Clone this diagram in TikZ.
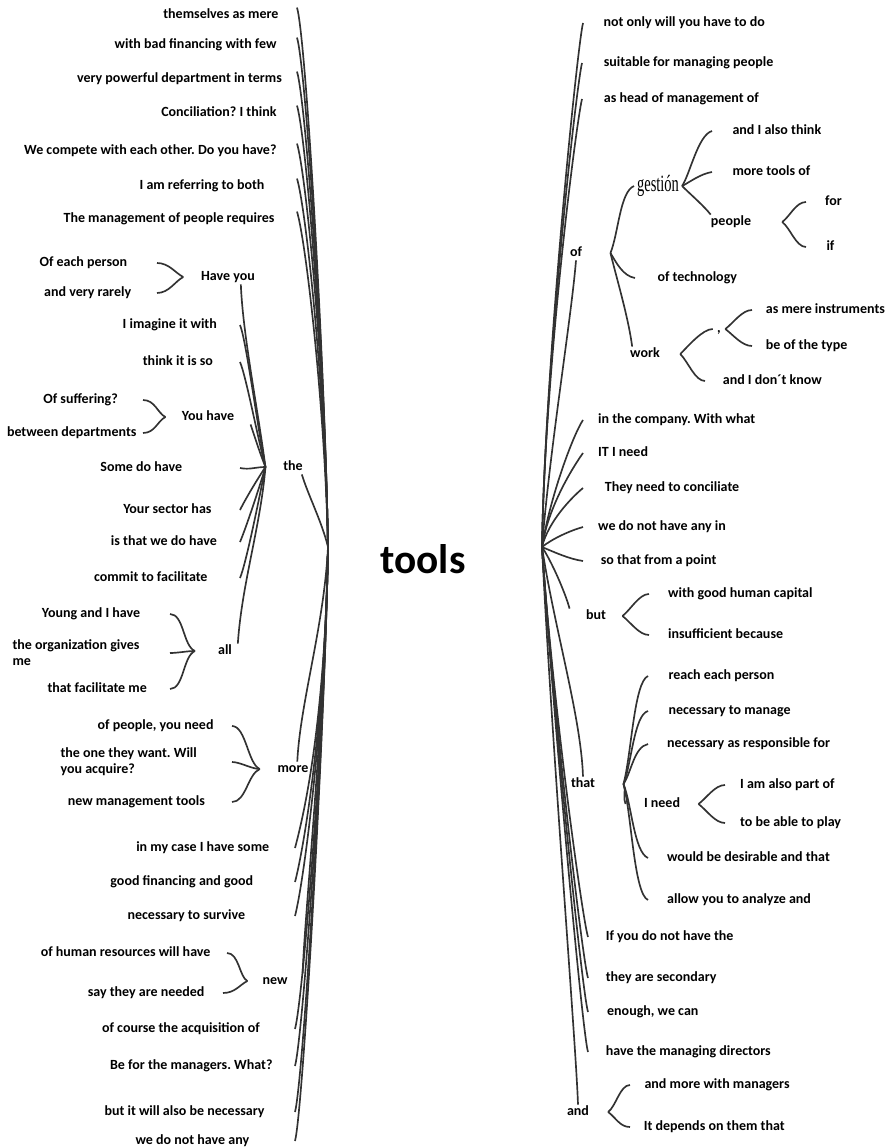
\documentclass[tikz,border=0pt]{standalone}
\usepackage{fontspec}
\setmainfont{Carlito}
\newfontfamily\gestfont[FakeStretch=0.62]{Liberation Serif}
\frenchspacing
\tikzset{every picture/.style={line width=0.75pt}}
\tikzset{
  word/.style={font=\bfseries\fontsize{10.5}{12}\selectfont, text height=1.5ex, text depth=.25ex, inner ysep=1pt},
  lword/.style={word, anchor=east},
  rword/.style={word, anchor=west},
  twoline/.style={font=\bfseries\fontsize{10.5}{12}\selectfont, align=left, inner ysep=1pt, anchor=east},
  wire/.style={color={rgb, 255:red, 50; green, 50; blue, 50}, line width=1.25pt},
}
\begin{document}
\begin{tikzpicture}[x=0.75pt,y=0.75pt,yscale=-1,xscale=1]
\useasboundingbox (0,0) rectangle (886,1148);

% Root
\node (tools) at (423,559) [font=\bfseries\fontsize{31}{36}\selectfont] {tools};
\coordinate (toolsL) at (328,547);
\coordinate (toolsR) at (542,547);

% Text Node: left, upper
\node (lt1) at (297,15) [lword, inner xsep=13.5pt] {themselves as mere};
\node (lt2) at (297,45) [lword, inner xsep=15pt] {with bad financing with few};
\node (lt3) at (297,79) [lword, inner xsep=11pt] {very powerful department in terms};
\node (lt4) at (297,113) [lword, inner xsep=15pt] {Conciliation? I think};
\node (lt5) at (297,151) [lword, inner xsep=15pt] {We compete with each other. Do you have?};
\node (lt6) at (297,186) [lword, inner xsep=24pt] {I am referring to both};
\node (lt7) at (297,219) [lword, inner xsep=16.5pt] {The management of people requires};

% Text Node: Have you
\node (hv) at (228,277) [word, inner xsep=13pt] {Have you};
\node (hv1) at (157,263) [lword, inner xsep=22pt] {Of each person};
\node (hv2) at (157,293) [lword, inner xsep=19pt] {and very rarely};

% Text Node: the
\node (the) at (293,467) [word, inner xsep=13pt] {the};
\node (th1) at (240,325) [lword, inner xsep=17pt] {I imagine it with};
\node (th2) at (240,362) [lword, inner xsep=20pt] {think it is so};
\node (yh) at (208,417) [word, inner xsep=12pt] {You have};
\node (yh1) at (143,400) [lword, inner xsep=18.5pt] {Of suffering?};
\node (yh2) at (143,433) [lword, inner xsep=4.5pt] {between departments};
\node (th3) at (240,468) [lword, inner xsep=43pt] {Some do have};
\node (th4) at (240,510) [lword, inner xsep=21pt] {Your sector has};
\node (th5) at (240,542) [lword, inner xsep=17pt] {is that we do have};
\node (th6) at (240,578) [lword, inner xsep=24pt] {commit to facilitate};

% Text Node: all
\node (al) at (225,651) [word, inner xsep=17pt] {all};
\node (al1) at (170,614) [lword, inner xsep=22pt] {Young and I have};
\node (al2) at (170,653) [twoline, inner xsep=22.5pt] {the organization gives\\me};
\node (al3) at (170,689) [lword, inner xsep=17pt] {that facilitate me};

% Text Node: more
\node (mo) at (293,769) [word, inner xsep=13pt] {more};
\node (mo1) at (232,726) [lword, inner xsep=13.5pt] {of people, you need};
\node (mo2) at (232,762) [twoline, inner xsep=26pt] {the one they want. Will\\you acquire?};
\node (mo3) at (232,802) [lword, inner xsep=20pt] {new management tools};

% Text Node: left, lower
\node (lb1) at (295,848) [lword, inner xsep=19pt] {in my case I have some};
\node (lb2) at (295,882) [lword, inner xsep=31pt] {good financing and good};
\node (lb3) at (295,916) [lword, inner xsep=37pt] {necessary to survive};
\node (nw) at (275,981) [word, inner xsep=11pt] {new};
\node (nw1) at (227,953) [lword, inner xsep=12pt] {of human resources will have};
\node (nw2) at (223,993) [lword, inner xsep=13.5pt] {say they are needed};
\node (lb4) at (295,1029) [lword, inner xsep=26pt] {of course the acquisition of};
\node (lb5) at (295,1066) [lword, inner xsep=16.5pt] {Be for the managers. What?};
\node (lb6) at (295,1112) [lword, inner xsep=22.5pt] {but it will also be necessary};
\node (lb7) at (295,1141) [lword, inner xsep=34pt] {we do not have any};

% Text Node: right, upper
\node (ru1) at (583,23) [rword, inner xsep=15pt] {not only will you have to do};
\node (ru2) at (582,63) [rword, inner xsep=16pt] {suitable for managing people};
\node (ru3) at (582,99) [rword, inner xsep=16pt] {as head of management of};

% Text Node: of
\node (of) at (576,253) [word, inner xsep=21pt] {of};
\node (gest) at (658,186) [font=\gestfont\fontsize{17.5}{20}\selectfont, inner xsep=2pt, inner ysep=1pt] {gestión};
\node (g1) at (712,131) [rword, inner xsep=15pt] {and I also think};
\node (g2) at (712,172) [rword, inner xsep=15pt] {more tools of};
\node (pp) at (731,222) [word, inner xsep=23pt] {people};
\node (p1) at (806,202) [rword, inner xsep=14pt] {for};
\node (p2) at (806,247) [rword, inner xsep=15pt] {if};
\node (tech) at (635,278) [rword, inner xsep=16.5pt] {of technology};
\node (wk) at (645,354) [word, inner xsep=15pt] {work};
\node (cm) at (719,329) [word, inner xsep=3pt] {,};
\node (c1) at (752,310) [rword, inner xsep=10pt] {as mere instruments};
\node (c2) at (752,346) [rword, inner xsep=10pt] {be of the type};
\node (w2) at (705,381) [rword, inner xsep=13pt] {and I don´t know};

% Text Node: right, middle
\node (rm1) at (583,420) [rword, inner xsep=11pt] {in the company. With what};
\node (rm2) at (583,453) [rword, inner xsep=11pt] {IT I need};
\node (rm3) at (583,488) [rword, inner xsep=16pt] {They need to conciliate};
\node (rm4) at (583,527) [rword, inner xsep=11pt] {we do not have any in};
\node (rm5) at (583,561) [rword, inner xsep=13pt] {so that from a point};

% Text Node: but
\node (bt) at (596,616) [word, inner xsep=12pt] {but};
\node (b1) at (649,594) [rword, inner xsep=14pt] {with good human capital};
\node (b2) at (649,635) [rword, inner xsep=14pt] {insufficient because};

% Text Node: that
\node (tt) at (583,784) [word, inner xsep=21pt] {that};
\node (t1) at (648,676) [rword, inner xsep=15pt] {reach each person};
\node (t2) at (648,711) [rword, inner xsep=15pt] {necessary to manage};
\node (t3) at (648,744) [rword, inner xsep=14pt] {necessary as responsible for};
\node (ind) at (662,804) [word, inner xsep=13.5pt] {I need};
\node (i1) at (725,785) [rword, inner xsep=11pt] {I am also part of};
\node (i2) at (725,823) [rword, inner xsep=11pt] {to be able to play};
\node (t4) at (648,858) [rword, inner xsep=14pt] {would be desirable and that};
\node (t5) at (648,900) [rword, inner xsep=14pt] {allow you to analyze and};

% Text Node: right, lower
\node (rl1) at (588,937) [rword, inner xsep=13pt] {If you do not have the};
\node (rl2) at (588,978) [rword, inner xsep=13pt] {they are secondary};
\node (rl3) at (588,1012) [rword, inner xsep=14pt] {enough, we can};
\node (rl4) at (588,1052) [rword, inner xsep=13pt] {have the managing directors};
\node (nd) at (578,1112) [word, inner xsep=14pt] {and};
\node (a1) at (630,1085) [rword, inner xsep=10.5pt] {and more with managers};
\node (a2) at (630,1127) [rword, inner xsep=10pt] {It depends on them that};

%Curve Lines: root, left
\draw [wire] (toolsL) .. controls +(-3,-180) and +(9,30) .. (lt1.north east);
\draw [wire] (toolsL) .. controls +(-3,-180) and +(9,30) .. (lt2.north east);
\draw [wire] (toolsL) .. controls +(-3,-180) and +(9,30) .. (lt3.north east);
\draw [wire] (toolsL) .. controls +(-3,-180) and +(9,30) .. (lt4.north east);
\draw [wire] (toolsL) .. controls +(-3,-180) and +(9,30) .. (lt5.north east);
\draw [wire] (toolsL) .. controls +(-3,-160) and +(9,30) .. (lt6.north east);
\draw [wire] (toolsL) .. controls +(-3,-140) and +(9,30) .. (lt7.north east);
\draw [wire] (toolsL) .. controls +(-6,-25) and +(6,20) .. (the.-40);
\draw [wire] (toolsL) .. controls +(-4,80) and +(3,-60) .. (mo.60);
\draw [wire] (toolsL) .. controls +(-3,180) and +(8,-30) .. (lb1.east);
\draw [wire] (toolsL) .. controls +(-3,180) and +(8,-30) .. (lb2.east);
\draw [wire] (toolsL) .. controls +(-3,180) and +(8,-30) .. (lb3.east);
\draw [wire] (toolsL) .. controls +(-4,180) and +(2,-60) .. (nw.north east);
\draw [wire] (toolsL) .. controls +(-3,180) and +(8,-30) .. (lb4.east);
\draw [wire] (toolsL) .. controls +(-3,180) and +(8,-30) .. (lb5.east);
\draw [wire] (toolsL) .. controls +(-3,180) and +(8,-30) .. (lb6.east);
\draw [wire] (toolsL) .. controls +(-3,180) and +(8,-30) .. (lb7.east);

%Curve Lines: the
\draw [wire] (the.west) .. controls +(-8,-40) and +(6,14) .. (th1.east);
\draw [wire] (the.west) .. controls +(-8,-30) and +(6,14) .. (th2.east);
\draw [wire] (the.west) .. controls +(-8,-60) and +(2,50) .. (hv.-30);
\draw [wire] (the.west) .. controls +(-6,-15) and +(4,12) .. (yh.south east);
\draw [wire] (the.west) .. controls +(-10,0) and +(10,2) .. (th3.east);
\draw [wire] (the.west) .. controls +(-8,12) and +(6,-12) .. (th4.east);
\draw [wire] (the.west) .. controls +(-6,20) and +(6,-14) .. (th5.east);
\draw [wire] (the.west) .. controls +(-6,30) and +(6,-14) .. (th6.east);
\draw [wire] (the.west) .. controls +(-5,60) and +(4,-60) .. (al.30);

%Curve Lines: braces, left
\draw [wire] (hv.west) .. controls +(-8,-4) and +(12,0) .. (hv1.east);
\draw [wire] (hv.west) .. controls +(-8,4) and +(12,0) .. (hv2.east);
\draw [wire] (yh.west) .. controls +(-8,-4) and +(12,0) .. (yh1.east);
\draw [wire] (yh.west) .. controls +(-8,4) and +(12,0) .. (yh2.east);
\draw [wire] (al.west) .. controls +(-12,-5) and +(14,0) .. (al1.east);
\draw [wire] (al.west) .. controls +(-8,0) and +(8,0) .. (al2.east);
\draw [wire] (al.west) .. controls +(-12,5) and +(14,0) .. (al3.east);
\draw [wire] (mo.west) .. controls +(-12,-5) and +(14,0) .. (mo1.east);
\draw [wire] (mo.west) .. controls +(-8,0) and +(8,0) .. (mo2.east);
\draw [wire] (mo.west) .. controls +(-12,5) and +(14,0) .. (mo3.east);
\draw [wire] (nw.west) .. controls +(-8,-4) and +(12,0) .. (nw1.east);
\draw [wire] (nw.west) .. controls +(-8,4) and +(12,0) .. (nw2.east);

%Curve Lines: root, right
\draw [wire] (toolsR) .. controls +(3,-180) and +(-6,25) .. (ru1.west);
\draw [wire] (toolsR) .. controls +(3,-180) and +(-6,25) .. (ru2.west);
\draw [wire] (toolsR) .. controls +(3,-180) and +(-6,25) .. (ru3.west);
\draw [wire] (toolsR) .. controls +(8,-100) and +(-5,60) .. (of.south);
\draw [wire] (toolsR) .. controls +(8,-50) and +(-10,15) .. (rm1.west);
\draw [wire] (toolsR) .. controls +(6,-40) and +(-10,14) .. (rm2.west);
\draw [wire] (toolsR) .. controls +(6,-25) and +(-12,10) .. (rm3.west);
\draw [wire] (toolsR) .. controls +(10,-8) and +(-14,4) .. (rm4.west);
\draw [wire] (toolsR) .. controls +(12,5) and +(-14,-2) .. (rm5.west);
\draw [wire] (toolsR) .. controls +(10,15) and +(-4,-15) .. (bt.north west);
\draw [wire] (toolsR) .. controls +(12,80) and +(-2,-60) .. (tt.north);
\draw [wire] (toolsR) .. controls +(10,150) and +(-6,-20) .. (rl1.west);
\draw [wire] (toolsR) .. controls +(10,150) and +(-6,-20) .. (rl2.west);
\draw [wire] (toolsR) .. controls +(10,150) and +(-6,-20) .. (rl3.west);
\draw [wire] (toolsR) .. controls +(10,150) and +(-6,-20) .. (rl4.west);
\draw [wire] (toolsR) .. controls +(10,200) and +(-2,-60) .. (nd.north);

%Curve Lines: of
\draw [wire] (of.east) .. controls +(8,-20) and +(-14,6) .. (gest.west);
\draw [wire] (of.east) .. controls +(6,10) and +(-12,-2) .. (tech.west);
\draw [wire] (of.east) .. controls +(6,25) and +(-4,-30) .. (wk.150);
\draw [wire] (gest.east) .. controls +(8,-12) and +(-14,4) .. (g1.west);
\draw [wire] (gest.east) .. controls +(8,-4) and +(-12,2) .. (g2.west);
\draw [wire] (gest.east) .. controls +(8,8) and +(-6,-8) .. (pp.160);
\draw [wire] (pp.east) .. controls +(8,-6) and +(-10,0) .. (p1.west);
\draw [wire] (pp.east) .. controls +(8,6) and +(-10,0) .. (p2.west);
\draw [wire] (wk.east) .. controls +(8,-8) and +(-10,0) .. (cm.west);
\draw [wire] (wk.east) .. controls +(8,8) and +(-10,0) .. (w2.west);
\draw [wire] (cm.east) .. controls +(8,-6) and +(-10,0) .. (c1.west);
\draw [wire] (cm.east) .. controls +(8,6) and +(-10,0) .. (c2.west);

%Curve Lines: but, that, and
\draw [wire] (bt.east) .. controls +(8,-6) and +(-10,0) .. (b1.west);
\draw [wire] (bt.east) .. controls +(8,6) and +(-10,0) .. (b2.west);
\draw [wire] (tt.east) .. controls +(8,-30) and +(-14,6) .. (t1.west);
\draw [wire] (tt.east) .. controls +(8,-20) and +(-14,4) .. (t2.west);
\draw [wire] (tt.east) .. controls +(8,-12) and +(-14,3) .. (t3.west);
\draw [wire] (tt.east) .. controls +(3,6) and +(-3,-6) .. (ind.west);
\draw [wire] (tt.east) .. controls +(8,20) and +(-14,-6) .. (t4.west);
\draw [wire] (tt.east) .. controls +(8,30) and +(-14,-6) .. (t5.west);
\draw [wire] (ind.east) .. controls +(8,-6) and +(-10,0) .. (i1.west);
\draw [wire] (ind.east) .. controls +(8,6) and +(-10,0) .. (i2.west);
\draw [wire] (nd.east) .. controls +(8,-6) and +(-10,0) .. (a1.west);
\draw [wire] (nd.east) .. controls +(8,6) and +(-10,0) .. (a2.west);

\end{tikzpicture}
\end{document}
